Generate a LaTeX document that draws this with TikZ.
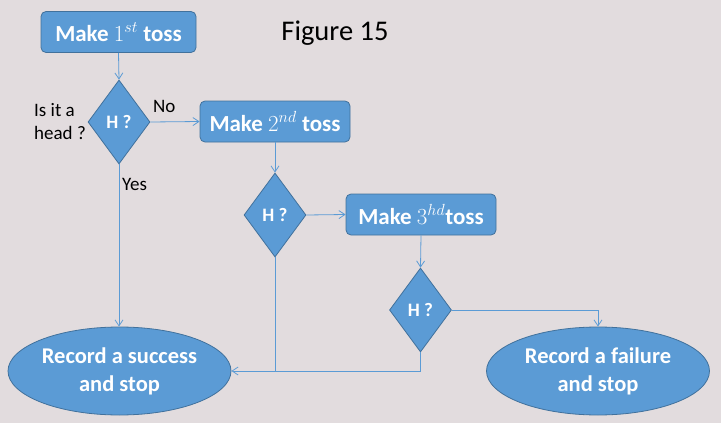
\documentclass[tikz,border=0pt]{standalone}
\usepackage{fix-cm}
\usepackage{fontspec}
\setmainfont{Carlito}
\usetikzlibrary{shapes.geometric,arrows.meta}
\definecolor{bg}{RGB}{226,220,222}
\definecolor{boxfill}{RGB}{91,155,213}
\definecolor{boxline}{RGB}{65,113,156}
\definecolor{conn}{RGB}{91,155,213}
\tikzset{
  stepbox/.style={draw=boxline, line width=0.8pt, fill=boxfill, rounded corners=5pt,
    minimum width=#1, minimum height=41pt, inner sep=0pt, text=white,
    font=\fontsize{23}{27}\selectfont\bfseries},
  stepbox/.default=150pt,
  decision/.style={diamond, draw=boxline, line width=0.8pt, fill=boxfill,
    minimum width=62pt, minimum height=84pt, inner sep=0pt, text=white,
    font=\fontsize{19}{22}\selectfont\bfseries},
  terminal/.style={ellipse, draw=boxline, line width=0.8pt, fill=boxfill,
    minimum width=223pt, minimum height=88pt, inner sep=0pt, text=white, align=center,
    font=\fontsize{22.5}{28}\selectfont\bfseries},
  lbl/.style={font=\fontsize{19}{23}\selectfont, text=black, inner sep=0pt},
  conn/.style={draw=conn, line width=0.8pt},
  arr/.style={conn, -{Straight Barb[length=6pt,width=8pt]}}
}
\begin{document}
\begin{tikzpicture}[x=1pt,y=-1pt]
\fill[bg] (0,0) rectangle (721,423);
\useasboundingbox (0,0) rectangle (721,423);

\node[stepbox=155pt] (b1) at (118.5,32) {Make $1^{st}$ toss};
\node[decision] (d1) at (119,122) {H ?};
\node[stepbox] (b2) at (275,121.5) {Make $2^{nd}$ toss};
\node[decision] (d2) at (275,215) {H ?};
\node[stepbox] (b3) at (421,214.5) {Make $3^{hd}$toss};
\node[decision] (d3) at (420.5,310) {H ?};
\node[terminal] (e1) at (119.5,371) {Record a success\\and stop};
\node[terminal] (e2) at (598,371) {Record a failure\\and stop};

\node[font=\fontsize{28.5}{32}\selectfont, inner sep=0pt] (fig) at (335,33) {Figure 15};
\node[lbl, align=left, anchor=west] (q) at (34,121.5) {Is it a\\head ?};
\node[lbl, anchor=west] (no) at (153,106) {No};
\node[lbl, anchor=west] (yes) at (122,184) {Yes};

\draw[arr] (b1.south) -- (d1.north);
\draw[arr] (d1.east) -- (b2.west);
\draw[arr] (d1.south) -- (d1.south |- e1.north);
\draw[arr] (b2.south) -- (d2.north);
\draw[arr] (d2.east) -- (b3.west);
\draw[arr] (b3.south) -- (d3.north);
\draw[conn] (d2.south) -- (d2.south |- e1.east);
\draw[arr] (d3.south) |- (e1.east);
\draw[arr] (d3.east) -| (e2.north);
\end{tikzpicture}
\end{document}
